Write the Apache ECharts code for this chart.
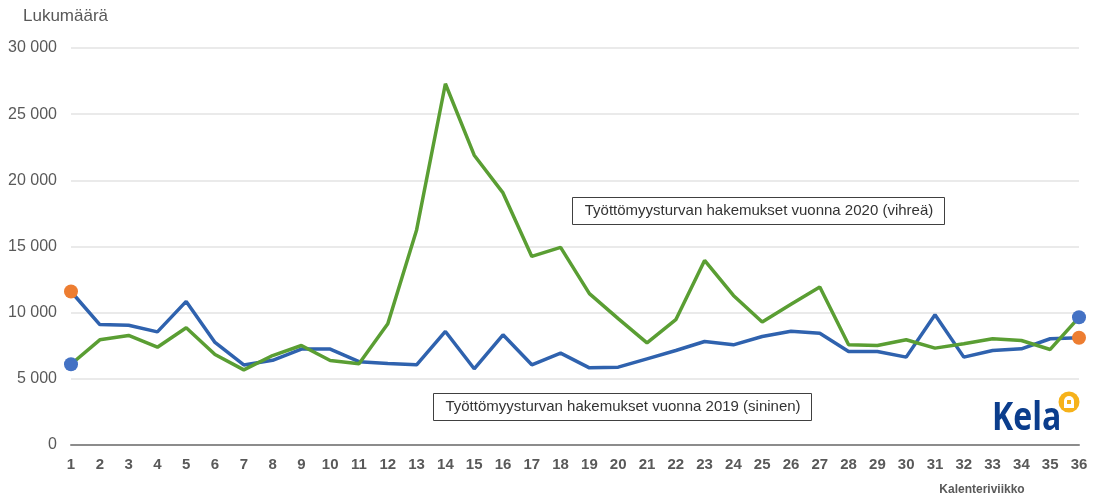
<!DOCTYPE html>
<html lang="fi">
<head>
    <meta charset="UTF-8">
    <title>Työttömyysturvan hakemukset 2019 ja 2020</title>
    <script src="https://cdn.jsdelivr.net/npm/echarts@6/dist/echarts.min.js"></script>
    <style>
        * { margin: 0; padding: 0; box-sizing: border-box; }
        body { background: #fff; }
        #chart { width: 1101px; height: 500px; }
    </style>
</head>
<body>
    <div id="chart"></div>

    <script>
        // kalenteriviikot 1-36
        const weeks = [];
        for (let w = 1; w <= 36; w++) weeks.push(String(w));

        // vuosi 2019 (sininen)
        const apps2019 = [11600, 9100, 9050, 8550, 10850, 7750, 6050, 6400, 7250, 7250,
                          6300, 6150, 6060, 8580, 5760, 8330, 6060, 6940, 5830, 5880,
                          6510, 7140, 7820, 7570, 8200, 8600, 8450, 7070, 7070, 6640,
                          9850, 6640, 7140, 7270, 8030, 8100];

        // vuosi 2020 (vihreä)
        const apps2020 = [6100, 7950, 8280, 7390, 8860, 6840, 5680, 6760, 7520, 6390,
                          6140, 9170, 16250, 27300, 21900, 19050, 14250, 14930, 11440, 9550,
                          7720, 9470, 13950, 11300, 9290, 10630, 11940, 7580, 7520, 7950,
                          7320, 7650, 8030, 7900, 7220, 9650];

        const yTicks = [0, 5000, 10000, 15000, 20000, 25000, 30000];

        const blue = '#2f62ae';
        const green = '#5a9e33';
        const dotOrange = '#ed7d31';
        const dotBlue = '#4472c4';

        // päätepisteisiin pallot
        function withEndDots(values, dotColor) {
            const last = values.length - 1;
            return values.map(function (v, i) {
                if (i === 0 || i === last) {
                    return { value: v, symbol: 'circle', symbolSize: 14, itemStyle: { color: dotColor, borderWidth: 0 } };
                }
                return v;
            });
        }

        const fmt = function (v) {
            return String(v).replace(/\B(?=(\d{3})+(?!\d))/g, ' ');
        };

        const boxFont = '15px "Liberation Sans", Arial, sans-serif';

        const chart = echarts.init(document.getElementById('chart'));
        chart.setOption({
            animation: false,
            textStyle: { fontFamily: 'Liberation Sans, Arial, sans-serif' },
            grid: { left: 71, right: 22, top: 48, bottom: 55, outerBoundsMode: 'none', containLabel: false },
            xAxis: {
                type: 'category',
                data: weeks,
                boundaryGap: false,
                axisLine: { lineStyle: { color: '#8c8c8c', width: 2 } },
                axisTick: { show: false },
                axisLabel: { color: '#595959', fontSize: 15, fontWeight: 'bold', margin: 12, interval: 0 }
            },
            yAxis: {
                type: 'value',
                min: yTicks[0],
                max: yTicks[yTicks.length - 1],
                interval: 5000,
                axisLine: { show: false },
                axisTick: { show: false },
                splitLine: { lineStyle: { color: '#e3e3e3', width: 1.5 } },
                axisLabel: { color: '#595959', fontSize: 16, margin: 14, formatter: fmt }
            },
            series: [
                {
                    name: '2019',
                    type: 'line',
                    data: withEndDots(apps2019, dotOrange),
                    symbol: 'none',
                    showAllSymbol: true,
                    lineStyle: { color: blue, width: 3.5 },
                    itemStyle: { color: blue },
                    z: 2
                },
                {
                    name: '2020',
                    type: 'line',
                    data: withEndDots(apps2020, dotBlue),
                    symbol: 'none',
                    showAllSymbol: true,
                    lineStyle: { color: green, width: 3.5 },
                    itemStyle: { color: green },
                    z: 3
                }
            ],
            graphic: [
                {
                    type: 'text',
                    x: 23, y: 16,
                    style: { text: 'Lukumäärä', fill: '#595959', font: '17px "Liberation Sans", Arial, sans-serif', verticalAlign: 'middle' }
                },
                {
                    type: 'text',
                    x: 982, y: 490,
                    style: { text: 'Kalenteriviikko', fill: '#595959', font: 'bold 12px "Liberation Sans", Arial, sans-serif', align: 'center', verticalAlign: 'middle' }
                },
                {
                    type: 'rect',
                    shape: { x: 572.5, y: 197.5, width: 372, height: 27 },
                    style: { fill: '#fff', stroke: '#404040', lineWidth: 1 },
                    z: 10
                },
                {
                    type: 'text',
                    x: 759, y: 211,
                    style: { text: 'Työttömyysturvan hakemukset vuonna 2020 (vihreä)', fill: '#333', font: boxFont, align: 'center', verticalAlign: 'middle' },
                    z: 11
                },
                {
                    type: 'rect',
                    shape: { x: 433.5, y: 393.5, width: 378, height: 27 },
                    style: { fill: '#fff', stroke: '#404040', lineWidth: 1 },
                    z: 10
                },
                {
                    type: 'text',
                    x: 623, y: 407,
                    style: { text: 'Työttömyysturvan hakemukset vuonna 2019 (sininen)', fill: '#333', font: boxFont, align: 'center', verticalAlign: 'middle' },
                    z: 11
                },
                // Kela-logo
                {
                    type: 'text',
                    x: 992, y: 419,
                    scaleX: 0.8,
                    style: { text: 'Kela', fill: '#0b3d8c', font: 'bold 40px "Open Sans", "DejaVu Sans", sans-serif', verticalAlign: 'middle' },
                    z: 11
                },
                {
                    type: 'circle',
                    shape: { cx: 1069, cy: 402, r: 10.5 },
                    style: { fill: '#f6b21b' },
                    z: 11
                },
                {
                    type: 'rect',
                    shape: { x: 1064, y: 396, width: 10, height: 12, r: [5, 5, 0, 0] },
                    style: { fill: '#fff' },
                    z: 12
                },
                {
                    type: 'rect',
                    shape: { x: 1067, y: 400, width: 4, height: 4 },
                    style: { fill: '#f6b21b' },
                    z: 13
                }
            ]
        });
    </script>
</body>
</html>
